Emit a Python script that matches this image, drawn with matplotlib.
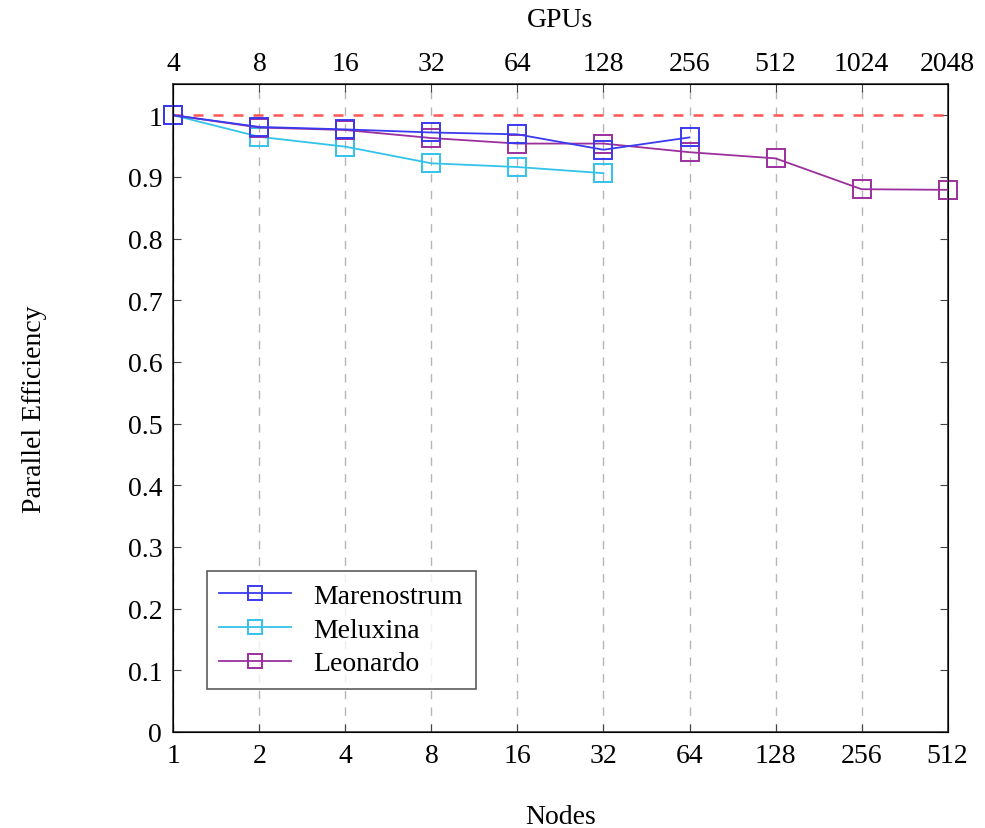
import matplotlib
matplotlib.use('Agg')
import matplotlib.pyplot as plt

plt.rcParams['font.family'] = ['Liberation Serif', 'DejaVu Serif']

# Datos
nodes = [1, 2, 4, 8, 16, 32, 64, 128, 256, 512]
gpus = [4, 8, 16, 32, 64, 128, 256, 512, 1024, 2048]

marenostrum_nodes = [1, 2, 4, 8, 16, 32, 64]
marenostrum_eff = [1.0, 0.981, 0.977, 0.972, 0.969, 0.944, 0.964]

meluxina_nodes = [1, 2, 4, 8, 16, 32]
meluxina_eff = [1.0, 0.965, 0.949, 0.922, 0.916, 0.906]

leonardo_nodes = [1, 2, 4, 8, 16, 32, 64, 128, 256, 512]
leonardo_eff = [1.0, 0.980, 0.976, 0.963, 0.954, 0.954, 0.940, 0.930, 0.880, 0.879]

y_ticks = [0, 0.1, 0.2, 0.3, 0.4, 0.5, 0.6, 0.7, 0.8, 0.9, 1.0]
y_labels = ['0', '0.1', '0.2', '0.3', '0.4', '0.5', '0.6', '0.7', '0.8', '0.9', '1']

fig = plt.figure(figsize=(9.85, 8.29), dpi=100)
ax = fig.add_axes([0.176, 0.116, 0.786, 0.781])

ax.set_xscale('log', base=2)
ax.set_xlim(1, 512)
ax.set_ylim(0, 1.05)

# linea ideal
ax.plot([1, 512], [1, 1], color='#ff5555', linestyle=(0, (4, 4)), linewidth=1.8, zorder=2)

ms = 13
ax.plot(marenostrum_nodes, marenostrum_eff, color='#3a3af0', marker='s', markersize=ms,
        markerfacecolor='none', markeredgewidth=1.4, linewidth=1.3, label='Marenostrum',
        zorder=4, clip_on=False)
ax.plot(meluxina_nodes, meluxina_eff, color='#33c3ea', marker='s', markersize=ms,
        markerfacecolor='none', markeredgewidth=1.4, linewidth=1.3, label='Meluxina',
        zorder=3, clip_on=False)
ax.plot(leonardo_nodes, leonardo_eff, color='#9b2f9e', marker='s', markersize=ms,
        markerfacecolor='none', markeredgewidth=1.4, linewidth=1.3, label='Leonardo',
        zorder=3, clip_on=False)

ax.set_xticks(nodes)
ax.set_xticklabels([str(n) for n in nodes])
ax.minorticks_off()
ax.set_yticks(y_ticks)
ax.set_yticklabels(y_labels)
ax.tick_params(axis='both', direction='in', labelsize=20, length=6, color='#444444', pad=8)
ax.tick_params(axis='y', right=True)
ax.grid(axis='x', color='#b5b5b5', linestyle=(0, (6, 6)), linewidth=1.0)

for s in ax.spines.values():
    s.set_color('#333333')
    s.set_linewidth(1.2)

ax.set_xlabel('Nodes', fontsize=20, labelpad=26)
ax.set_ylabel('Parallel Efficiency', fontsize=20, labelpad=58)

# eje superior con GPUs
ax2 = ax.twiny()
ax2.set_xscale('log', base=2)
ax2.set_xlim(1, 512)
ax2.set_xticks(nodes)
ax2.set_xticklabels([str(g) for g in gpus])
ax2.minorticks_off()
ax2.tick_params(axis='x', direction='in', labelsize=20, length=6, color='#444444', pad=6)
ax2.set_xlabel('GPUs', fontsize=20, labelpad=18)

leg = ax.legend(loc='lower left', bbox_to_anchor=(0.025, 0.045), fontsize=20, frameon=True,
                fancybox=False, edgecolor='#333333', handlelength=2.6, borderpad=0.45,
                labelspacing=0.3, markerscale=0.75, handletextpad=0.8)
leg.get_frame().set_linewidth(1.2)

fig.savefig('out.png', dpi=100)
